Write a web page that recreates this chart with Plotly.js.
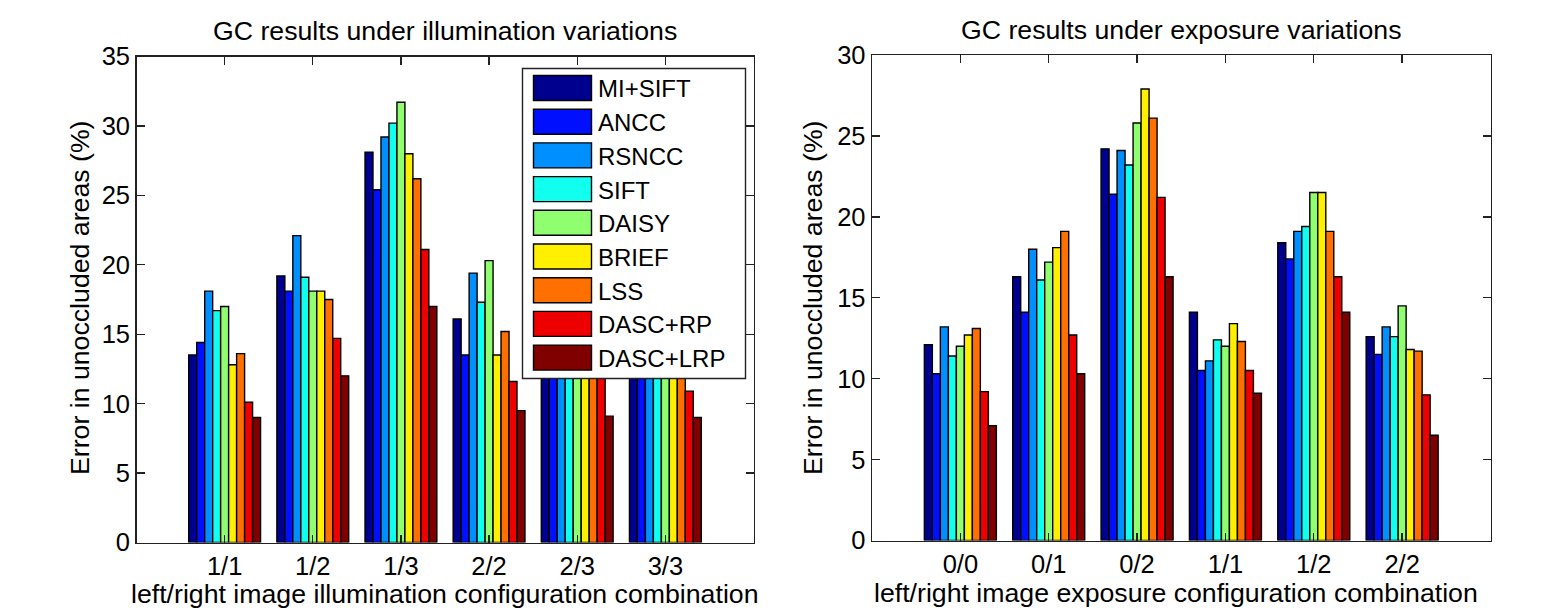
<!DOCTYPE html>
<html>
<head>
<meta charset="utf-8">
<script src="https://cdn.plot.ly/plotly-3.0.1.min.js"></script>
<style>
html,body{margin:0;padding:0;background:#fff;}
#chart{width:1544px;height:611px;}
</style>
</head>
<body>
<div id="chart"></div>
<script>
// ---------- data ----------
const methods = ['MI+SIFT','ANCC','RSNCC','SIFT','DAISY','BRIEF','LSS','DASC+RP','DASC+LRP'];
const colors = ['#00008f','#0010ff','#008fff','#10ffef','#8fff70','#ffef00','#ff7000','#ef0000','#800000'];

const illumCategories = ['1/1','1/2','1/3','2/2','2/3','3/3'];
const exposureCategories = ['0/0','0/1','0/2','1/1','1/2','2/2'];

// illumination variations (values of 2/3 and 3/3 partly hidden by the legend: estimated)
const illumMISIFT  = [13.5, 19.2, 28.1, 16.1, 19.5, 18.2];
const illumANCC    = [14.4, 18.1, 25.4, 13.5, 17.8, 16.5];
const illumRSNCC   = [18.1, 22.1, 29.2, 19.4, 21.5, 20.4];
const illumSIFT    = [16.7, 19.1, 30.2, 17.3, 20.2, 19.6];
const illumDAISY   = [17.0, 18.1, 31.7, 20.3, 22.0, 21.2];
const illumBRIEF   = [12.8, 18.1, 28.0, 13.5, 18.6, 17.3];
const illumLSS     = [13.6, 17.5, 26.2, 15.2, 19.8, 18.5];
const illumDASCRP  = [10.1, 14.7, 21.1, 11.6, 13.5, 10.9];
const illumDASCLRP = [ 9.0, 12.0, 17.0,  9.5,  9.1,  9.0];

// exposure variations
const expoMISIFT  = [12.1, 16.3, 24.2, 14.1, 18.4, 12.6];
const expoANCC    = [10.3, 14.1, 21.4, 10.5, 17.4, 11.5];
const expoRSNCC   = [13.2, 18.0, 24.1, 11.1, 19.1, 13.2];
const expoSIFT    = [11.4, 16.1, 23.2, 12.4, 19.4, 12.6];
const expoDAISY   = [12.0, 17.2, 25.8, 12.0, 21.5, 14.5];
const expoBRIEF   = [12.7, 18.1, 27.9, 13.4, 21.5, 11.8];
const expoLSS     = [13.1, 19.1, 26.1, 12.3, 19.1, 11.7];
const expoDASCRP  = [ 9.2, 12.7, 21.2, 10.5, 16.3,  9.0];
const expoDASCLRP = [ 7.1, 10.3, 16.3,  9.1, 14.1,  6.5];

const illumSeries = [illumMISIFT, illumANCC, illumRSNCC, illumSIFT, illumDAISY, illumBRIEF, illumLSS, illumDASCRP, illumDASCLRP];
const expoSeries  = [expoMISIFT, expoANCC, expoRSNCC, expoSIFT, expoDAISY, expoBRIEF, expoLSS, expoDASCRP, expoDASCLRP];

// ---------- traces ----------
const traces = [];
methods.forEach((m, i) => {
  traces.push({type:'bar', name:m, x:illumCategories, y:illumSeries[i], xaxis:'x', yaxis:'y',
    marker:{color:colors[i], line:{color:'#000', width:1.4}}, showlegend:false, hoverinfo:'x+y+name'});
});
methods.forEach((m, i) => {
  traces.push({type:'bar', name:m, x:exposureCategories, y:expoSeries[i], xaxis:'x2', yaxis:'y2',
    marker:{color:colors[i], line:{color:'#000', width:1.4}}, showlegend:false, hoverinfo:'x+y+name'});
});

// ---------- layout helpers ----------
const W = 1544, H = 611;
const px = v => v / W;
const py = v => 1 - v / H;
const FONT = 'Liberation Sans, Arial, Helvetica, sans-serif';
const TXT = '#000';
const TITLE_SIZE = 26.7;

const axisCommon = {
  showline:true, linecolor:'#222', linewidth:1.4, mirror:'ticks',
  ticks:'inside', ticklen:8, tickcolor:'#222', tickwidth:1.4,
  showgrid:false, zeroline:false, automargin:false,
  tickfont:{family:FONT, size:25.5, color:TXT}
};

// ---------- custom legend (built from methods/colors) ----------
const shapes = [];
const annotations = [];
const legX0 = 522.5, legX1 = 745.5, legY0 = 68.5, legY1 = 378.5;
shapes.push({type:'rect', xref:'paper', yref:'paper', layer:'above',
  x0:px(legX0), x1:px(legX1), y0:py(legY1), y1:py(legY0),
  fillcolor:'#fff', line:{color:'#222', width:1.4}});
methods.forEach((m, i) => {
  const cy = 88 + i * 33.7;
  shapes.push({type:'rect', xref:'paper', yref:'paper', layer:'above',
    x0:px(533.5), x1:px(591.5), y0:py(cy + 12.5), y1:py(cy - 12.5),
    fillcolor:colors[i], line:{color:'#000', width:1.4}});
  annotations.push({xref:'paper', yref:'paper', x:px(596), y:py(cy + 1), xanchor:'left', yanchor:'middle',
    text:m, showarrow:false, font:{family:FONT, size:24, color:TXT}});
});

// subplot titles
annotations.push({xref:'paper', yref:'paper', x:px(444.5), y:py(31), xanchor:'center', yanchor:'middle',
  text:'GC results under illumination variations', showarrow:false, font:{family:FONT, size:TITLE_SIZE, color:TXT}});
annotations.push({xref:'paper', yref:'paper', x:px(1181), y:py(30), xanchor:'center', yanchor:'middle',
  text:'GC results under exposure variations', showarrow:false, font:{family:FONT, size:TITLE_SIZE, color:TXT}});

// x-axis titles
annotations.push({xref:'paper', yref:'paper', x:px(444.5), y:py(593.5), xanchor:'center', yanchor:'middle',
  text:'left/right image illumination configuration combination', showarrow:false, font:{family:FONT, size:TITLE_SIZE, color:TXT}});
annotations.push({xref:'paper', yref:'paper', x:px(1176), y:py(592.5), xanchor:'center', yanchor:'middle',
  text:'left/right image exposure configuration combination', showarrow:false, font:{family:FONT, size:TITLE_SIZE, color:TXT}});

// y-axis titles
annotations.push({xref:'paper', yref:'paper', x:px(80), y:py(298), xanchor:'center', yanchor:'middle', textangle:-90,
  text:'Error in unoccluded areas (%)', showarrow:false, font:{family:FONT, size:TITLE_SIZE, color:TXT}});
annotations.push({xref:'paper', yref:'paper', x:px(813), y:py(298), xanchor:'center', yanchor:'middle', textangle:-90,
  text:'Error in unoccluded areas (%)', showarrow:false, font:{family:FONT, size:TITLE_SIZE, color:TXT}});

const layout = {
  width:W, height:H,
  margin:{l:0, r:0, t:0, b:0},
  paper_bgcolor:'#fff', plot_bgcolor:'#fff',
  barmode:'group', bargap:0.185, bargroupgap:0,
  showlegend:false,
  font:{family:FONT, color:TXT},
  xaxis:Object.assign({}, axisCommon, {domain:[px(136.5), px(753.5)], anchor:'y', type:'category', range:[-1, 6],
    ticklabelstandoff:0}),
  yaxis:Object.assign({}, axisCommon, {domain:[py(542.5), py(56.5)], anchor:'x', range:[0, 35], dtick:5}),
  xaxis2:Object.assign({}, axisCommon, {domain:[px(872), px(1490.5)], anchor:'y2', type:'category', range:[-1, 6],
    ticklabelstandoff:0}),
  yaxis2:Object.assign({}, axisCommon, {domain:[py(540.5), py(55)], anchor:'x2', range:[0, 30], dtick:5}),
  shapes:shapes,
  annotations:annotations
};

Plotly.newPlot('chart', traces, layout, {displayModeBar:false, staticPlot:true});
</script>
</body>
</html>
